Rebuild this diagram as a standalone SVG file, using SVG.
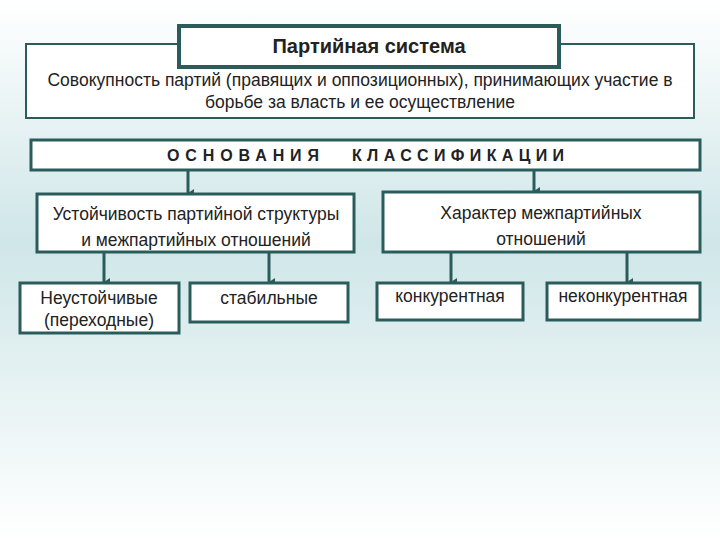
<svg xmlns="http://www.w3.org/2000/svg" width="720" height="540" viewBox="0 0 720 540">
<defs>
<linearGradient id="bg" x1="0" y1="0" x2="0" y2="1">
<stop offset="0" stop-color="#ffffff"/><stop offset="0.45" stop-color="#cfe6e8"/><stop offset="1" stop-color="#ffffff"/>
</linearGradient>
<marker id="ar" markerWidth="8" markerHeight="8" refX="4" refY="6" orient="auto" markerUnits="userSpaceOnUse" viewBox="0 0 8 8">
<path d="M0,0 L4,6 L8,0 Z" fill="#2a5c5c"/>
</marker>
<style>
.b{fill:#fff;stroke:#2a5c5c;stroke-width:3}
.t{font-family:"Liberation Sans",Arial,sans-serif;font-size:17.5px;fill:#222;text-anchor:middle}
.c{stroke:#2a5c5c;stroke-width:3;fill:none;marker-end:url(#ar)}
</style>
</defs>
<rect width="720" height="540" fill="url(#bg)"/>
<g id="definition"><rect class="b" x="26" y="44" width="668" height="74" style="stroke-width:2"/>
<text class="t" x="360" y="86">Совокупность партий (правящих и оппозиционных), принимающих участие в</text>
<text class="t" x="360" y="108">борьбе за власть и ее осуществление</text></g>
<g id="title"><rect class="b" x="179" y="26" width="380" height="41" style="stroke-width:4"/>
<text class="t" x="369" y="53" style="font-size:20px;font-weight:bold">Партийная система</text></g>
<g id="osnovaniya"><rect class="b" x="31" y="140" width="669" height="30"/>
<text class="t" x="167" y="161" style="font-weight:bold;text-anchor:start;font-size:16px" textLength="152" lengthAdjust="spacing">ОСНОВАНИЯ</text>
<text class="t" x="352" y="161" style="font-weight:bold;text-anchor:start;font-size:16px" textLength="212" lengthAdjust="spacing">КЛАССИФИКАЦИИ</text></g>
<g id="connectors">
<line class="c" x1="188" y1="171" x2="188" y2="193"/>
<line class="c" x1="534" y1="171" x2="534" y2="191"/>
<line class="c" x1="104" y1="253" x2="104" y2="282"/>
<line class="c" x1="269" y1="253" x2="269" y2="282"/>
<line class="c" x1="451" y1="253" x2="451" y2="282"/>
<line class="c" x1="627" y1="253" x2="627" y2="282"/>
</g>
<g id="stability"><rect class="b" x="37" y="194" width="317" height="58"/>
<text class="t" x="196" y="220">Устойчивость партийной структуры</text>
<text class="t" x="196" y="246">и межпартийных отношений</text></g>
<g id="character"><rect class="b" x="383" y="192" width="317" height="60"/>
<text class="t" x="541" y="219">Характер межпартийных</text>
<text class="t" x="541" y="245">отношений</text></g>
<g id="unstable"><rect class="b" x="20" y="283" width="159" height="50"/>
<text class="t" x="99" y="304">Неустойчивые</text>
<text class="t" x="99" y="326">(переходные)</text></g>
<g id="stable"><rect class="b" x="190" y="283" width="158" height="39"/>
<text class="t" x="269" y="304">стабильные</text></g>
<g id="competitive"><rect class="b" x="377" y="283" width="146" height="37"/>
<text class="t" x="450" y="302">конкурентная</text></g>
<g id="noncompetitive"><rect class="b" x="547" y="283" width="153" height="37"/>
<text class="t" x="623" y="302">неконкурентная</text></g>
</svg>
